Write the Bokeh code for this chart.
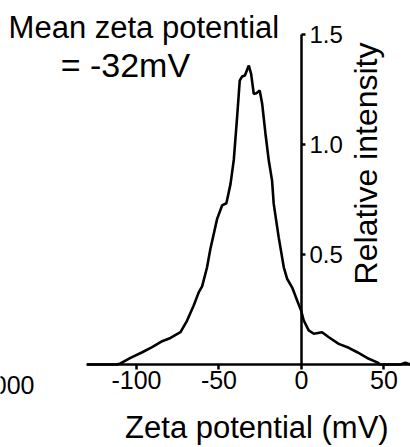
from bokeh.plotting import figure
from bokeh.models import Range1d, LinearAxis, FixedTicker, Label, ColumnDataSource, PrintfTickFormatter
from bokeh.embed import file_html
from bokeh.resources import INLINE
import math

# Data
zeta_mv = [-130, -112, -109.7, -103.6, -96.5, -90.5, -84.4, -79.4, -73.3, -69.3,
           -65.3, -62.2, -60.2, -57.2, -55.2, -51.1, -48.1, -45.5, -43.0, -41.0,
           -39.0, -37.4, -36.0, -34.3, -31.9, -30.5, -28.9, -27.3, -25.3, -23.8,
           -21.8, -19.8, -17.8, -16.8, -13.8, -10.7, -8.7, -5.6, -2.6, -0.2,
           1.4, 4.4, 7.5, 12.5, 16.6, 22.6, 28.7, 33.8, 39.8, 45.9,
           47.9, 60.0, 63.0, 66.0]
intensity = [0.0, 0.0, 0.005, 0.03, 0.056, 0.079, 0.106, 0.121, 0.147, 0.2,
             0.268, 0.329, 0.355, 0.442, 0.525, 0.662, 0.723, 0.733, 0.82, 0.93,
             1.124, 1.29, 1.309, 1.314, 1.359, 1.321, 1.23, 1.233, 1.245, 1.185,
             1.049, 0.927, 0.836, 0.73, 0.579, 0.442, 0.39, 0.35, 0.291, 0.245,
             0.2, 0.155, 0.14, 0.147, 0.124, 0.094, 0.076, 0.056, 0.03, 0.01,
             0.0, 0.0, 0.008, 0.0]
x_ticks = [-100, -50, 0, 50]
y_ticks = [0.5, 1.0, 1.5]
x_title = "Zeta potential (mV)"
y_title = "Relative intensity"
note_line1 = "Mean zeta potential"
note_line2 = "= -32mV"
neighbour_text = "000"

FONT = "Liberation Sans"

p = figure(width=410, height=447, output_backend="svg", toolbar_location=None,
           x_range=Range1d(-182.4, 66.1), y_range=Range1d(-0.377, 1.6545),
           x_axis_type=None, y_axis_type=None, min_border=0)
p.outline_line_color = None
p.background_fill_color = "white"
p.border_fill_color = "white"

src = ColumnDataSource(dict(x=zeta_mv, y=intensity))
p.line("x", "y", source=src, line_color="black", line_width=2.6)

xa = LinearAxis(fixed_location=0, ticker=FixedTicker(ticks=x_ticks), bounds=(-130, 66),
                formatter=PrintfTickFormatter(format="%d"))
xa.axis_line_width = 2.5
xa.major_tick_line_width = 2.5
xa.major_tick_out = 5
xa.major_tick_in = 0
xa.minor_tick_out = 0
xa.minor_tick_in = 0
xa.major_label_text_font = FONT
xa.major_label_text_font_size = "25px"
xa.major_label_text_color = "black"
xa.major_label_standoff = 1
p.add_layout(xa, "below")

ya = LinearAxis(fixed_location=0, ticker=FixedTicker(ticks=y_ticks), bounds=(0, 1.5),
                formatter=PrintfTickFormatter(format="%.1f"))
ya.axis_line_width = 2.5
ya.major_tick_line_width = 2.5
ya.major_tick_out = 4
ya.major_tick_in = 0
ya.minor_tick_out = 0
ya.minor_tick_in = 0
ya.major_label_text_font = FONT
ya.major_label_text_font_size = "24px"
ya.major_label_text_color = "black"
ya.major_label_standoff = 4
ya.major_label_orientation = "horizontal"
p.add_layout(ya, "right")

common = dict(text_font=FONT, text_color="black")
p.add_layout(Label(x=-177.5, y=1.534, text=note_line1, text_font_size="31px",
                   text_align="left", text_baseline="alphabetic", **common))
p.add_layout(Label(x=-106.7, y=1.362, text=note_line2, text_font_size="34px",
                   text_align="center", text_baseline="alphabetic", **common))
p.add_layout(Label(x=-27.0, y=-0.288, text=x_title, text_font_size="31px",
                   text_align="center", text_baseline="alphabetic", **common))
p.add_layout(Label(x=39.2, y=0.914, text=y_title, text_font_size="32px",
                   angle=math.pi / 2, text_align="center", text_baseline="alphabetic", **common))
p.add_layout(Label(x=-161.8, y=-0.095, text=neighbour_text, text_font_size="25px",
                   text_align="right", text_baseline="alphabetic", **common))

open("out.html", "w").write(file_html(p, INLINE))
